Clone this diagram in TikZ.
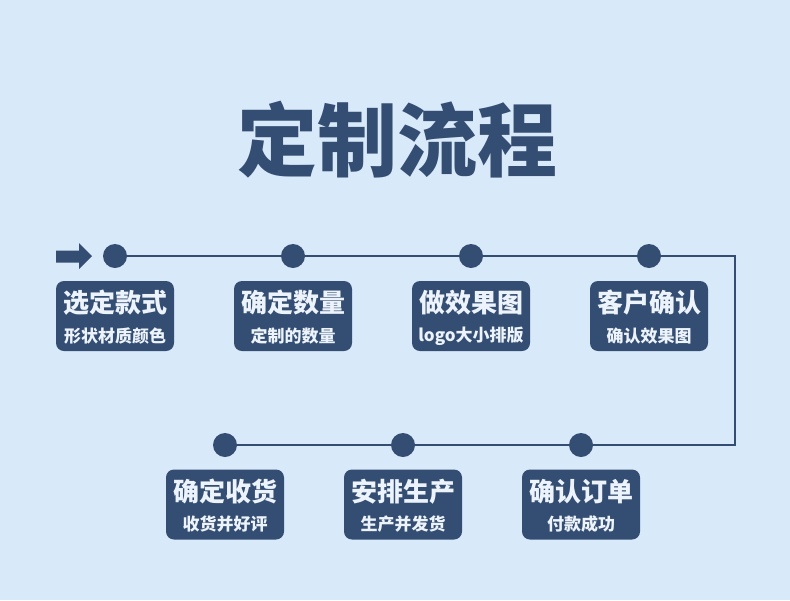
\documentclass[tikz,border=0pt]{standalone}
\usepackage{fontspec}
\setmainfont{Noto Sans CJK SC}
\newfontfamily\blackfont{Noto Sans CJK SC Black}
\definecolor{bgc}{RGB}{216,233,249}
\definecolor{navy}{RGB}{52,77,115}
\definecolor{lighttext}{RGB}{236,243,251}
\tikzset{
  dot/.style={circle,fill=navy,minimum size=24pt,inner sep=0pt},
  conn/.style={draw=navy,line width=2pt},
  stepbox/.style={rounded corners=8pt,fill=navy,minimum width=118pt,minimum height=70pt,inner sep=0pt},
  maintxt/.style={text=lighttext,font=\fontsize{26}{28}\selectfont\bfseries,inner sep=0pt},
  subtxt/.style={text=lighttext,font=\fontsize{17}{20}\selectfont\bfseries,inner sep=0pt},
  titletxt/.style={text=navy,font=\fontsize{80}{90}\selectfont\blackfont,inner sep=0pt}
}
\begin{document}
\begin{tikzpicture}[x=1pt,y=-1pt]
\fill[bgc] (0,0) rectangle (790,600);
\useasboundingbox (0,0) rectangle (790,600);
\node[titletxt] (title) at (397,140) {定制流程};
% dots
\node[dot] (c1) at (115,256) {};
\node[dot] (c2) at (293,256) {};
\node[dot] (c3) at (471,256) {};
\node[dot] (c4) at (649,256) {};
\node[dot] (c5) at (581,445) {};
\node[dot] (c6) at (403,445) {};
\node[dot] (c7) at (225,445) {};
\coordinate (tr) at (735,256);
\coordinate (br) at (735,445);
\draw[conn] (c1.center) -- (c2.center) -- (c3.center) -- (c4.center) -- (tr) -- (br) -- (c5.center) -- (c6.center) -- (c7.center);
% arrow
\coordinate (atip) at (92,256);
\fill[navy] (56,250.5) -- (79,250.5) -- (79,243) -- (atip) -- (79,269) -- (79,262.5) -- (56,262.5) -- cycle;
% boxes
\node[stepbox] (b1) at (115,316) {};
\node[stepbox] (b2) at (293,316) {};
\node[stepbox] (b3) at (471,316) {};
\node[stepbox] (b4) at (649,316) {};
\node[stepbox] (b5) at (581,504.5) {};
\node[stepbox] (b6) at (403,504.5) {};
\node[stepbox] (b7) at (225,504.5) {};
\foreach \b/\m/\s in {b1/选定款式/形状材质颜色, b2/确定数量/定制的数量, b3/做效果图/logo大小排版, b4/客户确认/确认效果图, b5/确认订单/付款成功, b6/安排生产/生产并发货, b7/确定收货/收货并好评}{
  \node[maintxt] (\b m) at ([yshift=13pt]\b.center) {\m};
  \node[subtxt] (\b s) at ([yshift=-20pt]\b.center) {\s};
}
\end{tikzpicture}
\end{document}
